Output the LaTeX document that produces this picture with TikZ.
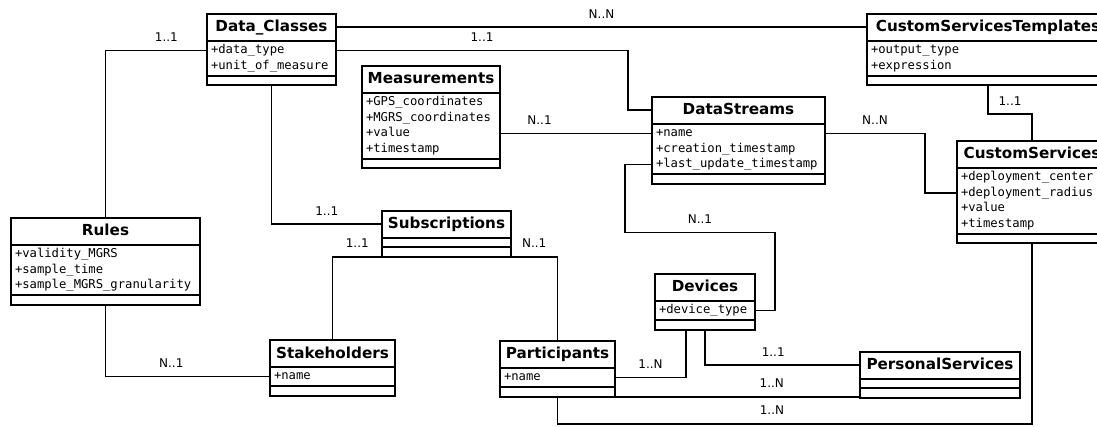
\documentclass[tikz,border=0pt]{standalone}
\usepackage{fontspec}
\setmainfont{DejaVu Sans}
\setmonofont{DejaVu Sans Mono}
\usetikzlibrary{shapes.multipart}

\newcommand{\ctitle}[1]{{\rmfamily\bfseries\fontsize{15.2}{18}\selectfont\rule[-6.7pt]{0pt}{22.7pt}#1}}
\newcommand{\attrs}[1]{\begin{tabular}{@{}l@{}}#1\end{tabular}}

\begin{document}
\begin{tikzpicture}[x=1pt,y=-1pt,
  umlclass/.style={rectangle split,rectangle split parts=3,draw,fill=white,line width=2pt,
    inner xsep=4pt,inner ysep=1pt,outer sep=0pt,anchor=north west,
    rectangle split part align={center,left,left},
    rectangle split empty part height=3pt,rectangle split empty part depth=0pt,
    font=\ttfamily\fontsize{12.2}{15.5}\selectfont},
  conn/.style={line width=1.8pt},
  mult/.style={above=6pt,inner sep=2pt,font=\fontsize{12}{14}\selectfont}]
  \clip (0,0) rectangle (1097,427);

  \node[umlclass,minimum width=129] (dc) at (207,14) {\ctitle{Data\_Classes}\nodepart{two}\attrs{+data\_type\\+unit\_of\_measure}};
  \node[umlclass,minimum width=138] (meas) at (362,66) {\ctitle{Measurements}\nodepart{two}\attrs{+GPS\_coordinates\\+MGRS\_coordinates\\+value\\+timestamp}};
  \node[umlclass,minimum width=173] (ds) at (652,97) {\ctitle{DataStreams}\nodepart{two}\attrs{+name\\+creation\_timestamp\\+last\_update\_timestamp}};
  \node[umlclass,minimum width=242] (cst) at (867,14) {\ctitle{CustomServicesTemplates}\nodepart{two}\attrs{+output\_type\\+expression}};
  \node[umlclass,minimum width=150] (cs) at (957,141) {\ctitle{CustomServices}\nodepart{two}\attrs{+deployment\_center\\+deployment\_radius\\+value\\+timestamp}};
  \node[umlclass,minimum width=189] (rules) at (11,218) {\ctitle{Rules}\nodepart{two}\attrs{+validity\_MGRS\\+sample\_time\\+sample\_MGRS\_granularity}};
  \node[umlclass,minimum width=129] (subs) at (382,211) {\ctitle{Subscriptions}};
  \node[umlclass,minimum width=125] (stake) at (270,340) {\ctitle{Stakeholders}\nodepart{two}\attrs{+name}};
  \node[umlclass,minimum width=115] (part) at (500,341) {\ctitle{Participants}\nodepart{two}\attrs{+name}};
  \node[umlclass,minimum width=100] (dev) at (655,274) {\ctitle{Devices}\nodepart{two}\attrs{+device\_type}};
  \node[umlclass,minimum width=160] (ps) at (860,352) {\ctitle{PersonalServices}};

  % associations
  \draw[conn] ([yshift=13.5pt]dc.text split east) -- node[mult]{N..N} ([yshift=13.5pt]cst.text split west);
  \draw[conn] ([yshift=-9.75pt]dc.text split east) -- node[mult]{1..1} ++(292,0) |- ([yshift=13.5pt]ds.text split west);
  \draw[conn] ([yshift=-9.75pt]dc.text split west) -| node[mult,pos=0.2]{1..1} (rules.north);
  \draw[conn] (dc.south) |- node[mult,pos=0.75]{1..1} ([yshift=13.5pt]subs.text split west);
  \draw[conn] ([yshift=-40.75pt]meas.text split east) -- node[mult,pos=0.26]{N..1} ([yshift=-9.75pt]ds.text split west);
  \draw[conn] ([yshift=-40.75pt]ds.text split west) -- ++(-27,0) -- ++(0,68) -| node[mult,pos=0.25]{N..1} ([xshift=20pt,yshift=-9.75pt]dev.text split east) -- ([yshift=-9.75pt]dev.text split east);
  \draw[conn] ([yshift=-9.75pt]ds.text split east) -- node[mult]{N..N} ++(100,0) |- ([yshift=-25.25pt]cs.text split west);
  \draw[conn] (cst.south) -- ++(0,29) -| node[mult,pos=0.25]{1..1} (cs.north);
  \draw[conn] (subs.south west) -| node[mult,pos=0.25]{1..1} (stake.north);
  \draw[conn] (subs.south east) -| node[mult,pos=0.25]{N..1} (part.north);
  \draw[conn] (rules.south) |- node[mult,pos=0.7]{N..1} ([yshift=-9.75pt]stake.text split west);
  \draw[conn] ([yshift=-9.75pt]part.text split east) -| node[mult,pos=0.25]{1..N} ([xshift=-19pt]dev.south);
  \draw[conn] (dev.south) |- node[mult,pos=0.72]{1..1} ([yshift=13.5pt]ps.text split west);
  \draw[conn] (part.south east) -- node[mult,pos=0.64]{1..N} (part.south east -| ps.west);
  \draw[conn] (part.south) -- ++(0,27) -| node[mult,pos=0.226]{1..N} (cs.south);
\end{tikzpicture}
\end{document}
